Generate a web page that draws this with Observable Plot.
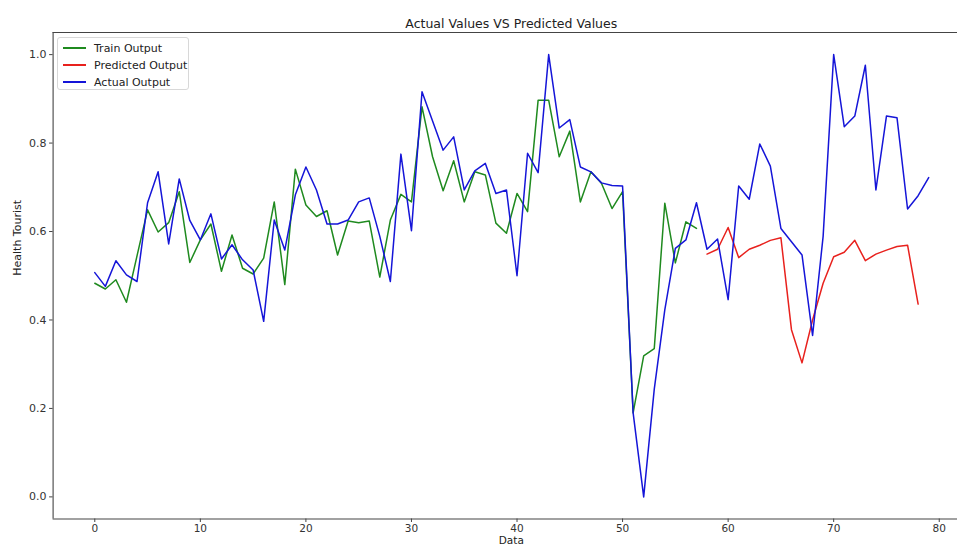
<!DOCTYPE html>
<html>
<head>
<meta charset="utf-8">
<script src="https://cdn.jsdelivr.net/npm/d3@7"></script>
<script src="https://cdn.jsdelivr.net/npm/@observablehq/plot@0.6"></script>
<style>
  html, body { margin: 0; padding: 0; background: #fff; }
  #wrap { position: relative; width: 957px; height: 549px; overflow: hidden; font-family: "DejaVu Sans", sans-serif; }
  #legend { position: absolute; left: 57px; top: 37px; width: 132px; height: 53px; background: rgba(255,255,255,0.8);
            border: 1px solid #d8d8d8; border-radius: 3px; box-sizing: border-box; font-size: 11px; color: #222; }
  .row { position: absolute; left: 0; height: 14px; display: flex; align-items: center; }
  .sw { display: inline-block; width: 23px; height: 2px; margin-left: 5px; margin-right: 8px; }
</style>
</head>
<body>
<div id="wrap"></div>
<script>
// Data
const trainOutput = [0.483,0.470,0.491,0.440,0.545,0.649,0.599,0.620,0.690,0.530,0.581,0.617,0.510,0.592,0.517,0.504,0.540,0.667,0.480,0.741,0.660,0.634,0.647,0.547,0.624,0.620,0.624,0.497,0.626,0.684,0.667,0.882,0.769,0.692,0.760,0.667,0.735,0.728,0.619,0.596,0.686,0.645,0.897,0.897,0.769,0.827,0.667,0.735,0.709,0.652,0.690,0.190,0.319,0.335,0.664,0.529,0.622,0.607];
const trainStart = 0;
const predictedOutput = [0.549,0.560,0.609,0.541,0.560,0.569,0.580,0.586,0.378,0.303,0.400,0.483,0.543,0.553,0.580,0.534,0.549,0.558,0.566,0.569,0.436];
const predictedStart = 58;
const actualOutput = [0.507,0.476,0.534,0.502,0.487,0.665,0.735,0.572,0.719,0.625,0.581,0.640,0.538,0.570,0.536,0.513,0.397,0.626,0.558,0.683,0.746,0.694,0.617,0.617,0.626,0.667,0.676,0.589,0.487,0.775,0.602,0.916,0.850,0.784,0.814,0.694,0.737,0.754,0.686,0.694,0.500,0.777,0.733,1.000,0.834,0.853,0.746,0.735,0.710,0.704,0.703,0.190,0.000,0.243,0.423,0.562,0.581,0.665,0.560,0.583,0.446,0.703,0.673,0.798,0.748,0.607,0.577,0.547,0.365,0.589,1.000,0.837,0.861,0.976,0.694,0.861,0.857,0.651,0.681,0.722];
const actualStart = 0;
const xTicks = [0,10,20,30,40,50,60,70,80];
const yTicks = [0.0,0.2,0.4,0.6,0.8,1.0];
const seriesNames = ["Train Output","Predicted Output","Actual Output"];
const seriesColors = ["#1f8a1f","#e8211d","#1515d8"];
const title = "Actual Values VS Predicted Values";
const xLabel = "Data";
const yLabel = "Health Tourist";

const toRows = (arr, start) => arr.map((v, i) => ({x: start + i, y: v}));
const train = toRows(trainOutput, trainStart);
const pred = toRows(predictedOutput, predictedStart);
const actual = toRows(actualOutput, actualStart);

const xDomain = [-3.95, 81.73];
const yDomain = [-0.05, 1.05];
const axisColor = "#444";

const chart = Plot.plot({
  width: 957,
  height: 549,
  marginLeft: 52.6,
  marginRight: 0,
  marginTop: 32,
  marginBottom: 30.5,
  style: {fontFamily: "DejaVu Sans, sans-serif", fontSize: "11px", color: "#333", background: "#fff"},
  x: {domain: xDomain},
  y: {domain: yDomain},
  marks: [
    Plot.axisX({ticks: xTicks, tickSize: 3.5, tickPadding: 2, fontSize: 10.5, tickFormat: d3.format("d"), label: null, stroke: axisColor}),
    Plot.axisY({ticks: yTicks, tickSize: 3.5, tickPadding: 3, tickFormat: d3.format(".1f"), label: null, stroke: axisColor}),
    Plot.ruleX([xDomain[0]], {stroke: axisColor, strokeWidth: 1.1}),
    Plot.ruleY([yDomain[0], yDomain[1]], {stroke: axisColor, strokeWidth: 1.1}),
    Plot.lineY(train, {x: "x", y: "y", stroke: seriesColors[0], strokeWidth: 1.5}),
    Plot.lineY(pred, {x: "x", y: "y", stroke: seriesColors[1], strokeWidth: 1.5}),
    Plot.lineY(actual, {x: "x", y: "y", stroke: seriesColors[2], strokeWidth: 1.5}),
    Plot.text([title], {frameAnchor: "top", text: d => d, dx: 6, dy: -13, fontSize: 12.5, fill: "#222"}),
    Plot.text([xLabel], {frameAnchor: "bottom", text: d => d, dx: 6, dy: 24.5, fontSize: 10.5, fill: "#222"}),
    Plot.text([yLabel], {frameAnchor: "left", text: d => d, dx: -36, rotate: -90, fontSize: 11, fill: "#222"})
  ]
});

const wrap = document.getElementById("wrap");
wrap.appendChild(chart);

const legend = document.createElement("div");
legend.id = "legend";
seriesNames.forEach((name, i) => {
  const row = document.createElement("div");
  row.className = "row";
  row.style.top = (3 + i * 17) + "px";
  const sw = document.createElement("span");
  sw.className = "sw";
  sw.style.background = seriesColors[i];
  const t = document.createElement("span");
  t.textContent = name;
  row.appendChild(sw);
  row.appendChild(t);
  legend.appendChild(row);
});
wrap.appendChild(legend);
</script>
</body>
</html>
